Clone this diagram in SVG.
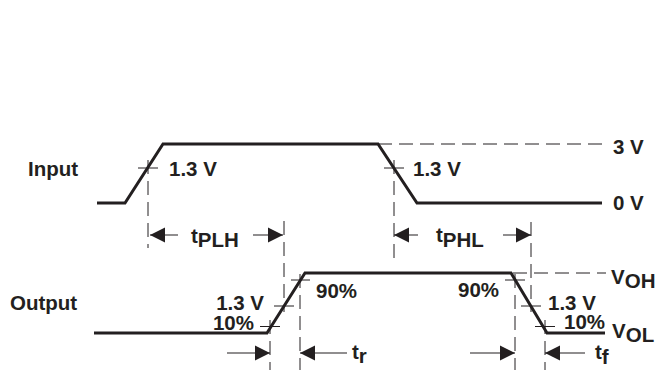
<svg xmlns="http://www.w3.org/2000/svg" width="659" height="370" viewBox="0 0 659 370">
<defs>
<style>
.wave{fill:none;stroke:#231f20;stroke-width:3;stroke-linejoin:miter}
.dash{fill:none;stroke:#231f20;stroke-width:1;stroke-dasharray:14 7}
.thin{fill:none;stroke:#231f20;stroke-width:1}
.shaft{fill:none;stroke:#231f20;stroke-width:1.2}
.head{fill:#231f20}
text{font-family:"Liberation Sans",Arial,sans-serif;font-weight:bold;font-size:20.5px;fill:#231f20}
</style>
</defs>
<rect width="659" height="370" fill="#fff"/>
<g id="labels">
<text x="28" y="176">Input</text>
<text x="10" y="310">Output</text>
<text x="613" y="154">3 V</text>
<text x="613" y="210">0 V</text>
<text x="611" y="284">V<tspan dy="4">OH</tspan></text>
<text x="612" y="338">V<tspan dy="4">OL</tspan></text>
</g>
<g id="input-wave">
<path class="wave" d="M97,203 H125 L163,144 H378 L417,203 H602"/>
<path class="dash" d="M378,144 H606"/>
<path class="thin" d="M138,168 H158 M384,168 H404"/>
<text x="169" y="176">1.3 V</text>
<text x="413" y="176">1.3 V</text>
</g>
<g id="output-wave">
<path class="wave" d="M94,333 H267 L305,273 H511 L547,333 H605"/>
<path class="dash" d="M513,273 H606"/>
<path class="thin" d="M260,326.5 H280 M274,306 H294 M291,280 H310 M505,280 H525 M521,306 H541 M535,326.5 H555"/>
<text x="264" y="309.5" text-anchor="end">1.3 V</text>
<text x="254" y="329.5" text-anchor="end">10%</text>
<text x="316" y="298">90%</text>
<text x="458" y="297">90%</text>
<text x="548" y="309.5">1.3 V</text>
<text x="564" y="328.5">10%</text>
</g>
<g id="connectors">
<path class="dash" d="M148,160 V248"/>
<path class="dash" d="M284,221 V312"/>
<path class="dash" d="M394,160 V258"/>
<path class="dash" d="M531,222 V312"/>
<path class="dash" d="M270,320 V370"/>
<path class="dash" d="M300,274 V370"/>
<path class="dash" d="M515,274 V370"/>
<path class="dash" d="M545,320 V370"/>
<path class="shaft" d="M150,235 H178 M253,235 H283 M394,235 H418 M503,235 H531 M227,353 H270 M300,353 H347 M470,353 H515 M545,353 H585"/>
<path class="head" d="M150,235 l15,-7.5 v15 z M283,235 l-15,-7.5 v15 z M394,235 l15,-7.5 v15 z M531,235 l-15,-7.5 v15 z M270,353 l-15,-7.5 v15 z M300,353 l15,-7.5 v15 z M515,353 l-15,-7.5 v15 z M545,353 l15,-7.5 v15 z"/>
<text x="191" y="243">t<tspan dy="4">PLH</tspan></text>
<text x="436" y="242">t<tspan dy="5">PHL</tspan></text>
<text x="352" y="359">t<tspan dy="4">r</tspan></text>
<text x="595" y="359">t<tspan dy="5">f</tspan></text>
</g>
</svg>
